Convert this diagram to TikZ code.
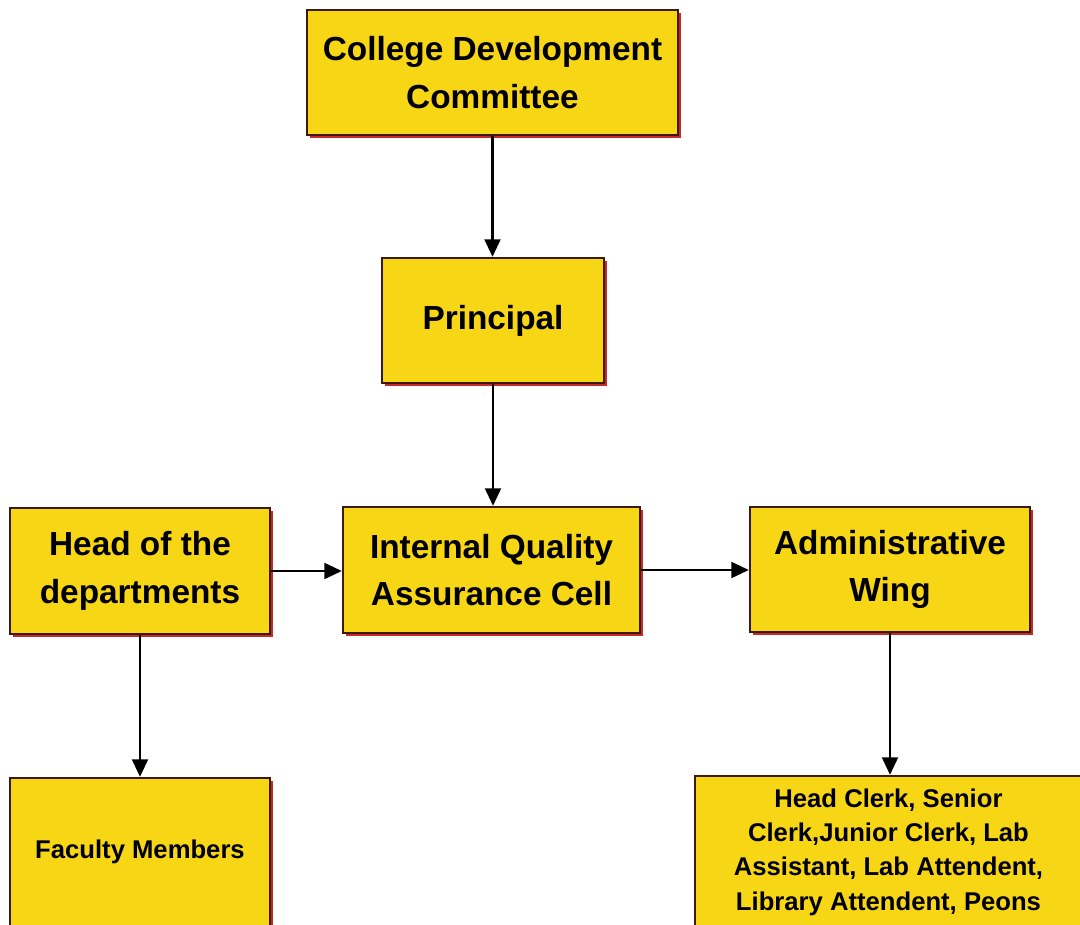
\documentclass[tikz,border=0pt]{standalone}
\usepackage{fontspec}
\setmainfont{Liberation Sans}
\usetikzlibrary{arrows.meta,shadows}
\definecolor{boxyellow}{RGB}{247,214,22}
\definecolor{boxedge}{RGB}{60,25,15}
\definecolor{shadowred}{RGB}{200,40,40}
\begin{document}
\begin{tikzpicture}[x=0.02cm,y=-0.02cm,
  orgbox/.style={draw=boxedge, line width=1.3pt, fill=boxyellow, align=center,
    font=\bfseries\fontsize{19}{27}\selectfont, inner sep=0pt,
    drop shadow={shadow xshift=1.6pt, shadow yshift=-1.8pt, fill=shadowred, opacity=1}},
  smallbox/.style={orgbox, font=\bfseries\fontsize{14.6}{19.5}\selectfont},
  conn/.style={line width=1.5pt, draw=black, -{Triangle[length=10pt,width=9pt]}}]
\useasboundingbox (0,0) rectangle (1080,925);
\clip (0,0) rectangle (1080,925);
\fill[white] (0,0) rectangle (1080,925);
\node[orgbox, minimum width=7.42cm, minimum height=2.5cm] (cdc) at (492.5,72.5) {College Development\\Committee};
\node[orgbox, minimum width=4.44cm, minimum height=2.5cm] (principal) at (493,320.5) {Principal};
\node[orgbox, minimum width=5.94cm, minimum height=2.52cm] (iqac) at (491.5,570) {Internal Quality\\Assurance Cell};
\node[orgbox, minimum width=5.2cm, minimum height=2.52cm] (head) at (140,571) {Head of the\\departments};
\node[orgbox, minimum width=5.6cm, minimum height=2.5cm] (admin) at (890,569.5) {Administrative\\Wing};
\node[smallbox, minimum width=5.2cm, minimum height=2.96cm] (faculty) at (140,852) {Faculty Members};
\node[smallbox, minimum width=7.74cm, minimum height=3.04cm] (clerk) at (888.5,852) {Head Clerk, Senior\\Clerk,Junior Clerk, Lab\\Assistant, Lab Attendent,\\Library Attendent, Peons};
\draw[conn] (cdc.south) -- (cdc.south |- principal.north);
\draw[conn] (principal.south) -- (principal.south |- iqac.north);
\draw[conn] (head.east) -- (head.east -| iqac.west);
\draw[conn] (iqac.east) -- (iqac.east -| admin.west);
\draw[conn] (head.south) -- (head.south |- faculty.north);
\draw[conn] (admin.south) -- (admin.south |- clerk.north);
\end{tikzpicture}
\end{document}
